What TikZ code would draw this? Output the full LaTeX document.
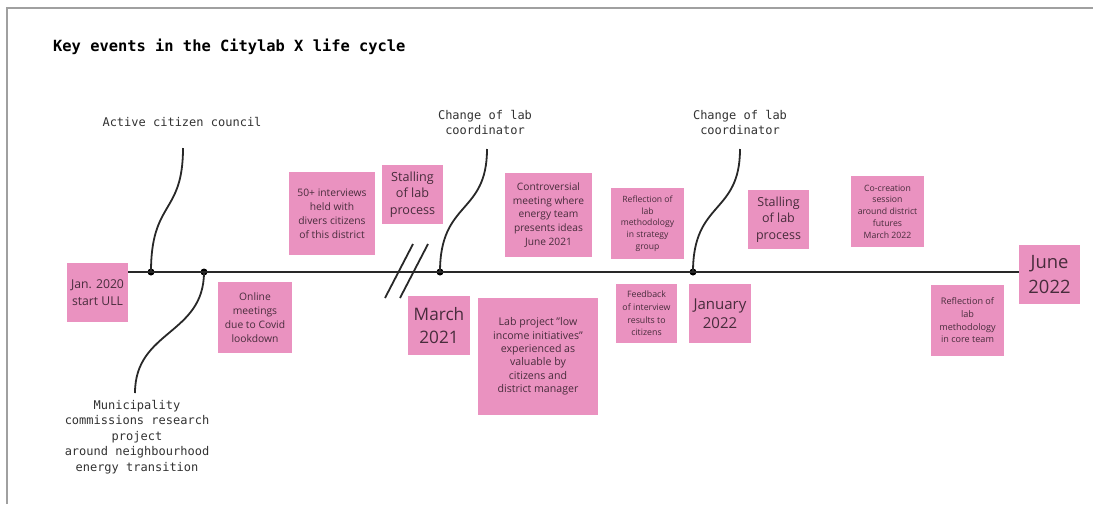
\documentclass[tikz,border=0pt]{standalone}
\usepackage{fontspec}
\setmainfont{Open Sans}
\newfontfamily\monofont{DejaVu Sans Mono}
\definecolor{stickypink}{RGB}{234,146,192}
\definecolor{stickyink}{RGB}{72,44,60}
\definecolor{framegray}{RGB}{160,160,160}
\definecolor{lineink}{RGB}{40,40,40}
\definecolor{labelink}{RGB}{50,50,50}
\begin{document}
\begin{tikzpicture}[x=1pt,y=-1pt,
  sticky/.style={fill=stickypink, text=stickyink, align=center, inner sep=0pt},
  event/.style={font=\monofont\fontsize{12}{15.5}\selectfont, text=labelink, align=center, inner sep=0pt},
  link/.style={draw=lineink, line width=1.8pt},
  timeline/.style={draw=lineink, line width=2pt},
  dot/.style={circle, fill=black, inner sep=0pt, minimum size=7pt}]
\useasboundingbox (0,0) rectangle (1093,504);
% frame
\draw[framegray, line width=2pt] (7,504) -- (7,8) -- (1093,8);
% title
\node[anchor=west, inner sep=0pt, font=\monofont\bfseries\fontsize{15.4}{18}\selectfont] (title) at (53,47) {Key events in the Citylab X life cycle};

% sticky notes
\node[sticky, minimum width=61pt, minimum height=59pt, font=\fontsize{12.2}{16.5}\selectfont] (jan20) at (97.5,292.5) {Jan. 2020\\start ULL};
\node[sticky, minimum width=86pt, minimum height=83pt, font=\fontsize{10.3}{14}\selectfont] (interviews) at (332,213.5) {50+ interviews\\held with\\divers citizens\\of this district};
\node[sticky, minimum width=74pt, minimum height=71pt, font=\fontsize{10.3}{14}\selectfont] (online) at (255,317.5) {Online\\meetings\\due to Covid\\lookdown};
\node[sticky, minimum width=61pt, minimum height=59pt, font=\fontsize{12.6}{16.7}\selectfont] (stall1) at (412.5,194.5) {Stalling\\of lab\\process};
\node[sticky, minimum width=62pt, minimum height=59pt, font=\fontsize{17.2}{23.5}\selectfont] (mar21) at (439,325.5) {March\\2021};
\node[sticky, minimum width=120pt, minimum height=117pt, font=\fontsize{10.6}{13.4}\selectfont] (lowincome) at (538,356.5) {Lab project "low\\income initiatives"\\experienced as\\valuable by\\citizens and\\district manager};
\node[sticky, minimum width=87pt, minimum height=84pt, font=\fontsize{10.2}{13.7}\selectfont] (controversial) at (548.5,215) {Controversial\\meeting where\\energy team\\presents ideas\\June 2021};
\node[sticky, minimum width=73pt, minimum height=71pt, font=\fontsize{8.6}{11.7}\selectfont] (reflstrat) at (647.5,223.5) {Reflection of\\lab\\methodology\\in strategy\\group};
\node[sticky, minimum width=61pt, minimum height=59pt, font=\fontsize{8.8}{12.6}\selectfont] (feedback) at (646.5,313.5) {Feedback\\of interview\\results to\\citizens};
\node[sticky, minimum width=62pt, minimum height=59pt, font=\fontsize{15}{19}\selectfont] (jan22) at (720,313.5) {January\\2022};
\node[sticky, minimum width=61pt, minimum height=59pt, font=\fontsize{12.5}{16.7}\selectfont] (stall2) at (778.5,219.5) {Stalling\\of lab\\process};
\node[sticky, minimum width=73pt, minimum height=71pt, font=\fontsize{8.7}{11.7}\selectfont] (cocreation) at (887.5,211.5) {Co-creation\\session\\around district\\futures\\March 2022};
\node[sticky, minimum width=61pt, minimum height=59pt, font=\fontsize{18.4}{25}\selectfont] (jun22) at (1049.5,274.5) {June\\2022};
\node[sticky, minimum width=73pt, minimum height=71pt, font=\fontsize{9.1}{12.7}\selectfont] (reflcore) at (967.5,320.5) {Reflection of\\lab\\methodology\\in core team};

% event labels
\node[event] (council) at (182,122) {Active citizen council};
\node[event] (coord1) at (485,122.5) {Change of lab\\coordinator};
\node[event] (coord2) at (740,122.5) {Change of lab\\coordinator};
\node[event] (muni) at (137,437) {Municipality\\commissions research\\project\\around neighbourhood\\energy transition};

% points on the time line
\node[dot] (d1) at (151,272) {};
\node[dot] (d2) at (204,272) {};
\node[dot] (d3) at (440,272) {};
\node[dot] (d4) at (693,272) {};

% the time line
\draw[timeline] (jan20.east |- d1) -- (jun22.west |- d1);
% break in the time scale
\draw[link] (385,298) -- (413,244);
\draw[link] (400,298) -- (428,244);

% connectors from the time line to the event labels
\coordinate (top1) at (183,148);
\coordinate (bot2) at (135,393);
\coordinate (top3) at (487,149);
\coordinate (top4) at (740,149);
\draw[link] (d1.center) .. controls (151,200) and (183,215) .. (top1);
\draw[link] (d2.center) .. controls (204,335) and (135,330) .. (bot2);
\draw[link] (d3.center) .. controls (440,200) and (487,215) .. (top3);
\draw[link] (d4.center) .. controls (693,200) and (740,215) .. (top4);
\end{tikzpicture}
\end{document}
